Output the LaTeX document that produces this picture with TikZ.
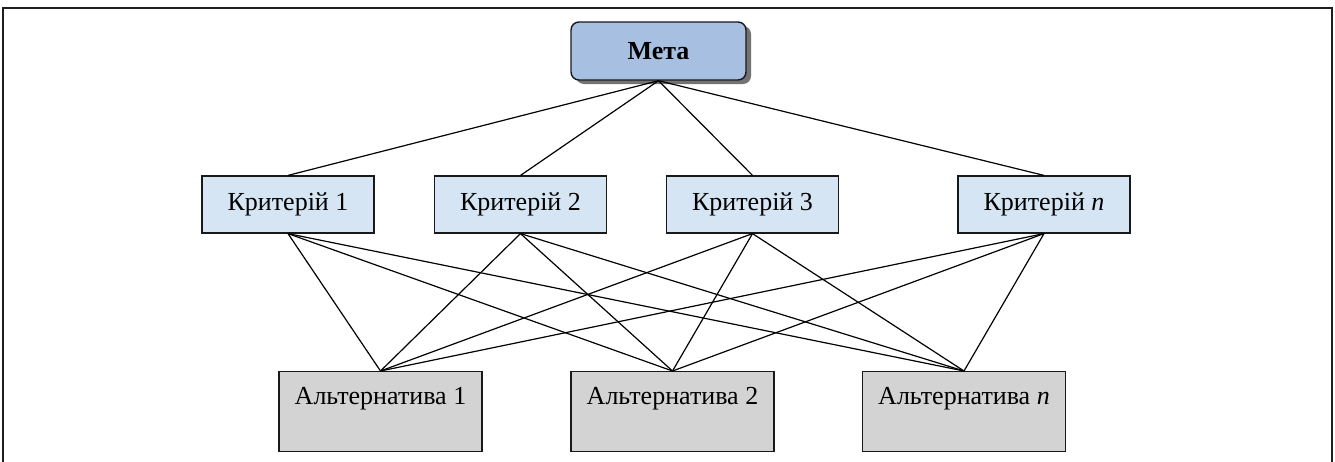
\documentclass[tikz,border=0pt]{standalone}
\usepackage{fontspec}
\setmainfont{Liberation Serif}
\usetikzlibrary{shadows}
\definecolor{metafill}{HTML}{A7BFE0}
\definecolor{critfill}{HTML}{D5E5F3}
\definecolor{altfill}{HTML}{D3D3D3}
\definecolor{framecol}{HTML}{1E1E1E}
\tikzset{
  metabox/.style={draw=black!90, line width=1.4pt, fill=metafill, rounded corners=8pt,
    minimum width=175pt, minimum height=58pt, inner sep=0pt,
    drop shadow={shadow xshift=5pt, shadow yshift=-4pt, fill=black!55, opacity=1},
    font=\fontsize{26}{30}\selectfont\bfseries},
  critbox/.style={draw=black!90, line width=1.2pt, fill=critfill,
    minimum width=172pt, minimum height=57pt, inner sep=0pt,
    font=\fontsize{26}{30}\selectfont},
  altbox/.style={draw=black!90, line width=1.2pt, fill=altfill,
    minimum width=203pt, inner ysep=0pt, inner xsep=0pt,
    text height=33pt, text depth=47pt, anchor=north,
    font=\fontsize{26}{30}\selectfont},
  link/.style={line width=1.2pt, black},
  frame/.style={line width=2.6pt, draw=framecol}
}
\begin{document}
\begin{tikzpicture}[x=1pt, y=-1pt]
\useasboundingbox (0,0) rectangle (1335,461);
\draw[frame] (3,470) -- (3,8) -- (1332,8) -- (1332,470);

\node[metabox] (meta) at (658.5,51) {Мета};

\node[critbox] (k1) at (288,204.5) {Критерій 1};
\node[critbox] (k2) at (520.5,204.5) {Критерій 2};
\node[critbox] (k3) at (752.5,204.5) {Критерій 3};
\node[critbox] (kn) at (1044,204.5) {Критерій \textit{n}};

\node[altbox] (a1) at (380.5,371) {Альтернатива 1};
\node[altbox] (a2) at (672.5,371) {Альтернатива 2};
\node[altbox] (an) at (964,371) {Альтернатива \textit{n}};

\begin{scope}[on background layer/.try]
\end{scope}
\foreach \k in {k1,k2,k3,kn}{
  \draw[link] (meta.south) -- (\k.north);
  \foreach \a in {a1,a2,an}{
    \draw[link] (\k.south) -- (\a.north);
  }
}
\end{tikzpicture}
\end{document}
